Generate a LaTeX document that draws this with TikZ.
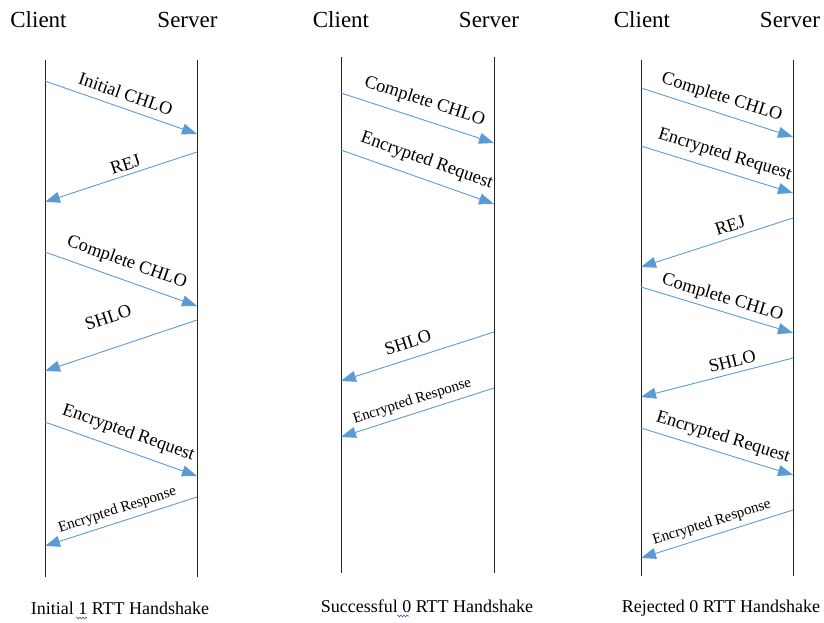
\documentclass[tikz,border=0pt]{standalone}
\usepackage{fontspec}
\setmainfont{Liberation Serif}
\usetikzlibrary{arrows.meta,decorations.pathmorphing}
\definecolor{msgblue}{HTML}{5B9BD5}
\definecolor{spellblue}{HTML}{4F4FC8}

\tikzset{
  lifeline/.style={draw=black!85, line width=1pt},
  msg/.style={draw=msgblue, line width=0.9pt, -{Triangle[length=15pt,width=11pt]}},
  lbl/.style={font=\fontsize{18.3}{20}\selectfont, inner sep=0pt, sloped},
  smalllbl/.style={font=\fontsize{15}{16}\selectfont, inner sep=0pt, sloped},
  head/.style={font=\fontsize{23}{25}\selectfont, anchor=base, inner sep=0pt},
  caption/.style={font=\fontsize{18}{20}\selectfont, anchor=base, inner sep=0pt},
  spell/.style={draw=spellblue, line width=0.6pt,
    decorate, decoration={snake, amplitude=0.9pt, segment length=3pt}}
}

\begin{document}
\begin{tikzpicture}[x=1pt,y=-1pt]
\useasboundingbox (0,0) rectangle (824,622);

% ---------- headers ----------
\node[head] (h1c) at (38.5,27) {Client};
\node[head] (h1s) at (187.5,27) {Server};
\node[head] (h2c) at (341,27) {Client};
\node[head] (h2s) at (489,27) {Server};
\node[head] (h3c) at (642,27) {Client};
\node[head] (h3s) at (790,27) {Server};

% ---------- lifelines ----------
\coordinate (c1t) at (45,60);   \coordinate (c1b) at (45,577);
\coordinate (s1t) at (197,60);  \coordinate (s1b) at (197,577);
\coordinate (c2t) at (341,57);  \coordinate (c2b) at (341,573);
\coordinate (s2t) at (494,57);  \coordinate (s2b) at (494,573);
\coordinate (c3t) at (641,60);  \coordinate (c3b) at (641,576);
\coordinate (s3t) at (793,60);  \coordinate (s3b) at (793,576);
\foreach \a/\b in {c1t/c1b,s1t/s1b,c2t/c2b,s2t/s2b,c3t/c3b,s3t/s3b}
  \draw[lifeline] (\a) -- (\b);

% ---------- initial 1-RTT handshake ----------
\coordinate (a1) at (45,81);   \coordinate (a2) at (197,134);
\coordinate (a3) at (197,152); \coordinate (a4) at (45,202);
\coordinate (a5) at (45,252);  \coordinate (a6) at (197,306);
\coordinate (a7) at (197,320); \coordinate (a8) at (45,371);
\coordinate (a9) at (45,422);  \coordinate (a10) at (197,476);
\coordinate (a11) at (197,497);\coordinate (a12) at (45,546);
\draw[msg] (a1) -- node[lbl, pos=0.5, above=7.5pt] {Initial CHLO} (a2);
\draw[msg] (a3) -- node[lbl, pos=0.45, above=4pt] {REJ} (a4);
\draw[msg] (a5) -- node[lbl, pos=0.5, above=8.5pt] {Complete CHLO} (a6);
\draw[msg] (a7) -- node[lbl, pos=0.52, above=24pt] {SHLO} (a8);
\draw[msg] (a9) -- node[lbl, pos=0.51, above=8.5pt] {Encrypted Request} (a10);
\draw[msg] (a11) -- node[smalllbl, pos=0.5, above=4.5pt] {Encrypted Response} (a12);

% ---------- successful 0-RTT handshake ----------
\coordinate (b1) at (341,93);  \coordinate (b2) at (494,143);
\coordinate (b3) at (341,150); \coordinate (b4) at (494,204);
\coordinate (b5) at (494,332); \coordinate (b6) at (341,381);
\coordinate (b7) at (494,388); \coordinate (b8) at (341,437);
\draw[msg] (b1) -- node[lbl, pos=0.51, above=9pt] {Complete CHLO} (b2);
\draw[msg] (b3) -- node[lbl, pos=0.52, above=9.5pt] {Encrypted Request} (b4);
\draw[msg] (b5) -- node[lbl, pos=0.53, above=10pt] {SHLO} (b6);
\draw[msg] (b7) -- node[smalllbl, pos=0.51, above=5pt] {Encrypted Response} (b8);

% ---------- rejected 0-RTT handshake ----------
\coordinate (r1) at (641,88);  \coordinate (r2) at (793,137);
\coordinate (r3) at (641,146); \coordinate (r4) at (793,193);
\coordinate (r5) at (793,218); \coordinate (r6) at (641,267);
\coordinate (r7) at (641,287); \coordinate (r8) at (793,333);
\coordinate (r9) at (793,358); \coordinate (r10) at (641,397);
\coordinate (r11) at (641,428);\coordinate (r12) at (793,475);
\coordinate (r13) at (793,510);\coordinate (r14) at (641,558);
\draw[msg] (r1) -- node[lbl, pos=0.5, above=7pt] {Complete CHLO} (r2);
\draw[msg] (r3) -- node[lbl, pos=0.52, above=7.5pt] {Encrypted Request} (r4);
\draw[msg] (r5) -- node[lbl, pos=0.39, above=5.5pt] {REJ} (r6);
\draw[msg] (r7) -- node[lbl, pos=0.51, above=4.5pt] {Complete CHLO} (r8);
\draw[msg] (r9) -- node[lbl, pos=0.38, above=5.5pt] {SHLO} (r10);
\draw[msg] (r11) -- node[lbl, pos=0.51, above=6.5pt] {Encrypted Request} (r12);
\draw[msg] (r13) -- node[smalllbl, pos=0.51, above=5pt] {Encrypted Response} (r14);

% ---------- captions ----------
\node[caption] (cap1) at (120,614) {Initial 1 RTT Handshake};
\node[caption] (cap2) at (427,612) {Successful 0 RTT Handshake};
\node[caption] (cap3) at (721,612) {Rejected 0 RTT Handshake};
% spell-check squiggles under the digits
\draw[spell] (76,618) -- (87,618);
\draw[spell] (397,616) -- (409,616);
\end{tikzpicture}
\end{document}
